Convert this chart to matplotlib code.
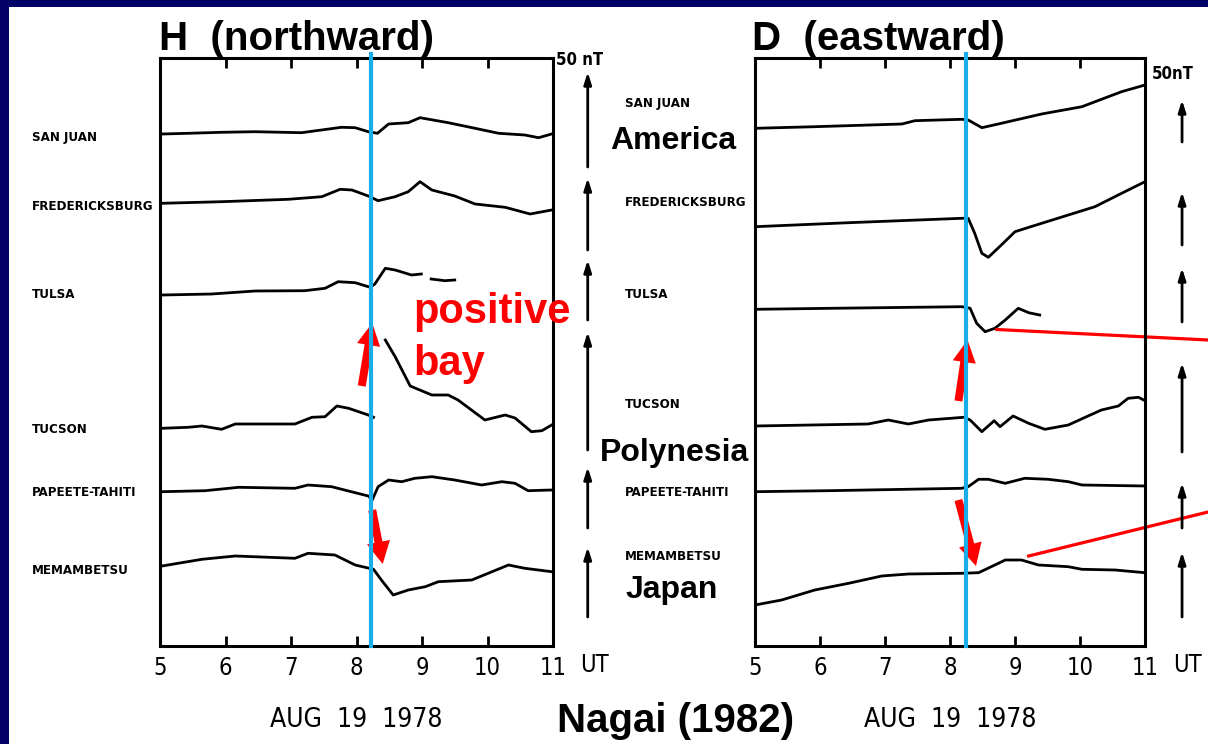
import matplotlib
matplotlib.use("Agg")
import matplotlib.pyplot as plt
from matplotlib.patches import Rectangle

W, H = 1208, 744
navy = "#000066"
sky = "#19aee8"
narrow = ["DejaVu Sans"]
arial = ["Liberation Sans", "DejaVu Sans"]

# station names (top to bottom)
stations = ["SAN JUAN", "FREDERICKSBURG", "TULSA", "TUCSON", "PAPEETE-TAHITI", "MEMAMBETSU"]
hours = [5, 6, 7, 8, 9, 10, 11]
onset_h, onset_d = 8.22, 8.24

# trace levels (plot units, growing downward)
# ---- H (northward)
h_sj_t = [5.03, 5.43, 5.94, 6.45, 7.16, 7.77, 7.98, 8.18, 8.32, 8.49, 8.79, 8.97, 9.40, 9.81, 10.17, 10.57, 10.78, 10.98]
h_sj_y = [134, 133.3, 132.3, 131.7, 132.7, 127.3, 127.7, 131.7, 133.3, 124, 122.7, 117.7, 122.7, 128.3, 133.3, 135, 137.7, 134]
h_fr_t = [5.03, 5.94, 6.96, 7.47, 7.75, 7.93, 8.18, 8.33, 8.59, 8.79, 8.97, 9.15, 9.50, 9.81, 10.27, 10.65, 10.98]
h_fr_y = [203.3, 201.7, 199.3, 196.7, 189.3, 190, 196, 200.7, 196.7, 191.7, 181.7, 190, 196, 204, 207.3, 214, 210]
h_tu_t = [5.03, 5.79, 6.45, 7.21, 7.52, 7.72, 7.98, 8.21, 8.28, 8.44, 8.59, 8.84, 8.99]
h_tu_y = [295, 294, 291, 290.7, 288.3, 281.7, 282.7, 287.3, 284, 268.3, 270, 275, 274]
h_tu2_t = [9.14, 9.35, 9.50]
h_tu2_y = [279, 280.7, 280]
h_tc_t = [5.03, 5.43, 5.64, 5.94, 6.15, 7.06, 7.32, 7.52, 7.70, 7.88, 8.18, 8.26]
h_tc_y = [428.3, 427.3, 426, 429.3, 424, 424, 417.3, 416.7, 406, 408.3, 415, 417.3]
h_tc2_t = [8.44, 8.59, 8.82, 9.15, 9.40, 9.55, 9.96, 10.27, 10.42, 10.67, 10.83, 10.98]
h_tc2_y = [340, 356.7, 386, 395, 395, 400, 420, 415, 418, 431.7, 430.7, 425]
h_pa_t = [5.03, 5.69, 6.20, 7.06, 7.26, 7.62, 7.98, 8.18, 8.24, 8.33, 8.49, 8.69, 8.89, 9.15, 9.50, 9.91, 10.22, 10.42, 10.62, 10.98]
h_pa_y = [491.7, 490.7, 487.3, 488.3, 485, 486.7, 492.7, 496, 500, 486.7, 480, 481.7, 478.3, 476.7, 480, 485, 481.7, 483.3, 490.7, 490]
h_me_t = [5.03, 5.64, 6.15, 7.06, 7.26, 7.67, 7.98, 8.26, 8.38, 8.56, 8.79, 9.05, 9.25, 9.76, 10.01, 10.32, 10.57, 10.98]
h_me_y = [566, 559.3, 556, 558.3, 553.3, 555, 565, 569.3, 580, 595, 590, 586.7, 581.7, 580, 573.3, 565, 568.3, 571.7]

# ---- D (eastward)
d_sj_t = [5.0, 5.92, 7.26, 7.46, 8.18, 8.28, 8.49, 8.79, 9.41, 10.03, 10.33, 10.64, 11.0]
d_sj_y = [128.3, 126.7, 124, 120.7, 119.3, 120, 127.7, 123.3, 114, 106.7, 99.3, 91.7, 85]
d_fr_t = [5.0, 6.44, 8.18, 8.28, 8.38, 8.49, 8.59, 8.79, 9.0, 9.41, 9.82, 10.23, 10.64, 11.0]
d_fr_y = [226.7, 222.7, 218.3, 218.3, 233.3, 253.3, 257.3, 245, 231.7, 223.3, 215, 206.7, 193.3, 181.7]
d_tu_t = [5.0, 6.18, 8.18, 8.31, 8.41, 8.54, 8.69, 8.85, 9.05, 9.21, 9.38]
d_tu_y = [309.3, 308.3, 306.7, 308.3, 323.3, 331.7, 328.3, 320, 308.3, 312.7, 315]
d_tc_t = [5.0, 6.74, 7.05, 7.36, 7.67, 8.21, 8.31, 8.49, 8.68, 8.77, 8.97, 9.21, 9.46, 9.82, 10.08, 10.33, 10.59, 10.74, 10.90, 11.0]
d_tc_y = [426, 424, 420, 424, 420, 417.3, 420, 431.7, 420.7, 426.7, 416, 423.3, 429.3, 425, 417.3, 410, 406, 398.3, 397.3, 400.7]
d_pa_t = [5.0, 6.13, 8.18, 8.28, 8.44, 8.59, 8.85, 9.15, 9.51, 9.82, 10.03, 11.0]
d_pa_y = [491.7, 490.7, 488.3, 486.7, 479.3, 479.3, 483.3, 478.3, 479.3, 481.7, 485, 486]
d_me_t = [5.0, 5.41, 5.92, 6.44, 6.95, 7.36, 8.18, 8.44, 8.69, 8.85, 9.10, 9.36, 9.82, 10.03, 10.54, 11.0]
d_me_y = [605, 600, 590, 583.3, 576, 574, 573.3, 572.7, 565, 560, 560, 565, 566.7, 569.3, 570, 572.7]

# 50 nT scale bars (top, bottom) per station
h_bar_top = [72, 178, 260, 332, 467, 547]
h_bar_bot = [167, 250, 320, 450, 528, 617]
d_bar_top = [100, 192, 268, 363, 483, 552]
d_bar_bot = [142, 245, 322, 452, 528, 617]

# station label rows
h_label_y = [138, 207, 295, 429, 493, 571]
d_label_y = [103, 203, 295, 405, 493, 557]


def fx(x):
    return x / W


def fy(y):
    return 1 - y / H


fig = plt.figure(figsize=(W / 100, H / 100), dpi=100, facecolor=navy)
fig.add_artist(Rectangle((fx(9), 0), 1, fy(7), transform=fig.transFigure,
                         facecolor="white", edgecolor="none", zorder=0))

axL = fig.add_axes([fx(160), fy(646), (553 - 160) / W, (646 - 58) / H])
axR = fig.add_axes([fx(755), fy(646), (1145 - 755) / W, (646 - 58) / H])

h_traces = [(h_sj_t, h_sj_y), (h_fr_t, h_fr_y), (h_tu_t, h_tu_y), (h_tu2_t, h_tu2_y),
            (h_tc_t, h_tc_y), (h_tc2_t, h_tc2_y), (h_pa_t, h_pa_y), (h_me_t, h_me_y)]
d_traces = [(d_sj_t, d_sj_y), (d_fr_t, d_fr_y), (d_tu_t, d_tu_y),
            (d_tc_t, d_tc_y), (d_pa_t, d_pa_y), (d_me_t, d_me_y)]

for ax, traces, onset, bx, btop, bbot in [(axL, h_traces, onset_h, 11.53, h_bar_top, h_bar_bot),
                                           (axR, d_traces, onset_d, 11.57, d_bar_top, d_bar_bot)]:
    ax.set_xlim(5, 11)
    ax.set_ylim(646, 58)
    for t, y in traces:
        ax.plot(t, y, color="black", lw=2.0, solid_joinstyle="round")
    ax.plot([onset, onset], [646, 54], color=sky, lw=3, zorder=5, clip_on=False)
    for s in ax.spines.values():
        s.set_linewidth(2.2)
    ax.set_xticks(hours)
    ax.set_xticklabels([str(h) for h in hours], family=narrow, fontstretch="condensed", fontsize=17)
    ax.set_yticks([])
    ax.tick_params(axis="x", direction="in", top=True, length=7, width=2, pad=7)
    for top, bot in zip(btop, bbot):
        ax.annotate("", xy=(bx, top), xytext=(bx, bot), annotation_clip=False,
                    arrowprops=dict(arrowstyle="-|>,head_length=0.7,head_width=0.22",
                                    lw=2, color="black", shrinkA=0, shrinkB=0))

# red arrows at the onset
red_arrow = dict(arrowstyle="simple,head_length=1.0,head_width=1.05,tail_width=0.36",
                 fc="red", ec="none", mutation_scale=16, shrinkA=0, shrinkB=0)
axL.annotate("", xy=(8.24, 323), xytext=(8.08, 386), arrowprops=red_arrow)
axL.annotate("", xy=(8.40, 564), xytext=(8.24, 510), arrowprops=red_arrow)
axR.annotate("", xy=(8.27, 340), xytext=(8.13, 401), arrowprops=red_arrow)
axR.annotate("", xy=(8.40, 566), xytext=(8.13, 500), arrowprops=red_arrow)
axR.plot([8.72, 11.97], [329.5, 340], color="red", lw=2.3, clip_on=False)
axR.plot([9.21, 11.97], [556, 512], color="red", lw=2.3, clip_on=False)

# station labels
for name, y in zip(stations, h_label_y):
    fig.text(fx(32), fy(y), name, family=narrow, fontstretch="condensed", fontsize=9.5,
             fontweight="bold", va="center")
for name, y in zip(stations, d_label_y):
    fig.text(fx(625), fy(y), name, family=narrow, fontstretch="condensed", fontsize=9.5,
             fontweight="bold", va="center")

# titles and notes
fig.text(fx(159), fy(50), "H  (northward)", family=arial, fontsize=29, fontweight="bold")
fig.text(fx(752), fy(50), "D  (eastward)", family=arial, fontsize=29, fontweight="bold")
fig.text(fx(556), fy(60), "50 nT", family=narrow, fontstretch="condensed", fontsize=12,
         fontweight="bold", va="center")
fig.text(fx(1152), fy(74), "50nT", family=narrow, fontstretch="condensed", fontsize=12,
         fontweight="bold", va="center")
fig.text(fx(580), fy(665), "UT", family=narrow, fontstretch="condensed", fontsize=17, va="center")
fig.text(fx(1173), fy(665), "UT", family=narrow, fontstretch="condensed", fontsize=17, va="center")
fig.text(fx(356), fy(720), "AUG  19  1978", family=narrow, fontstretch="condensed", fontsize=19,
         ha="center", va="center")
fig.text(fx(950), fy(720), "AUG  19  1978", family=narrow, fontstretch="condensed", fontsize=19,
         ha="center", va="center")
fig.text(fx(676), fy(721), "Nagai (1982)", family=arial, fontsize=29, fontweight="bold",
         ha="center", va="center")
fig.text(fx(673), fy(141), "America", family=arial, fontsize=23, fontweight="bold", ha="center", va="center")
fig.text(fx(675), fy(453), "Polynesia", family=arial, fontsize=23, fontweight="bold", ha="center", va="center")
fig.text(fx(672), fy(590), "Japan", family=arial, fontsize=23, fontweight="bold", ha="center", va="center")
fig.text(fx(413), fy(323), "positive", family=arial, fontsize=30, fontweight="bold", color="red")
fig.text(fx(413), fy(375), "bay", family=arial, fontsize=30, fontweight="bold", color="red")

plt.savefig("out.png", dpi=100, facecolor=fig.get_facecolor())
